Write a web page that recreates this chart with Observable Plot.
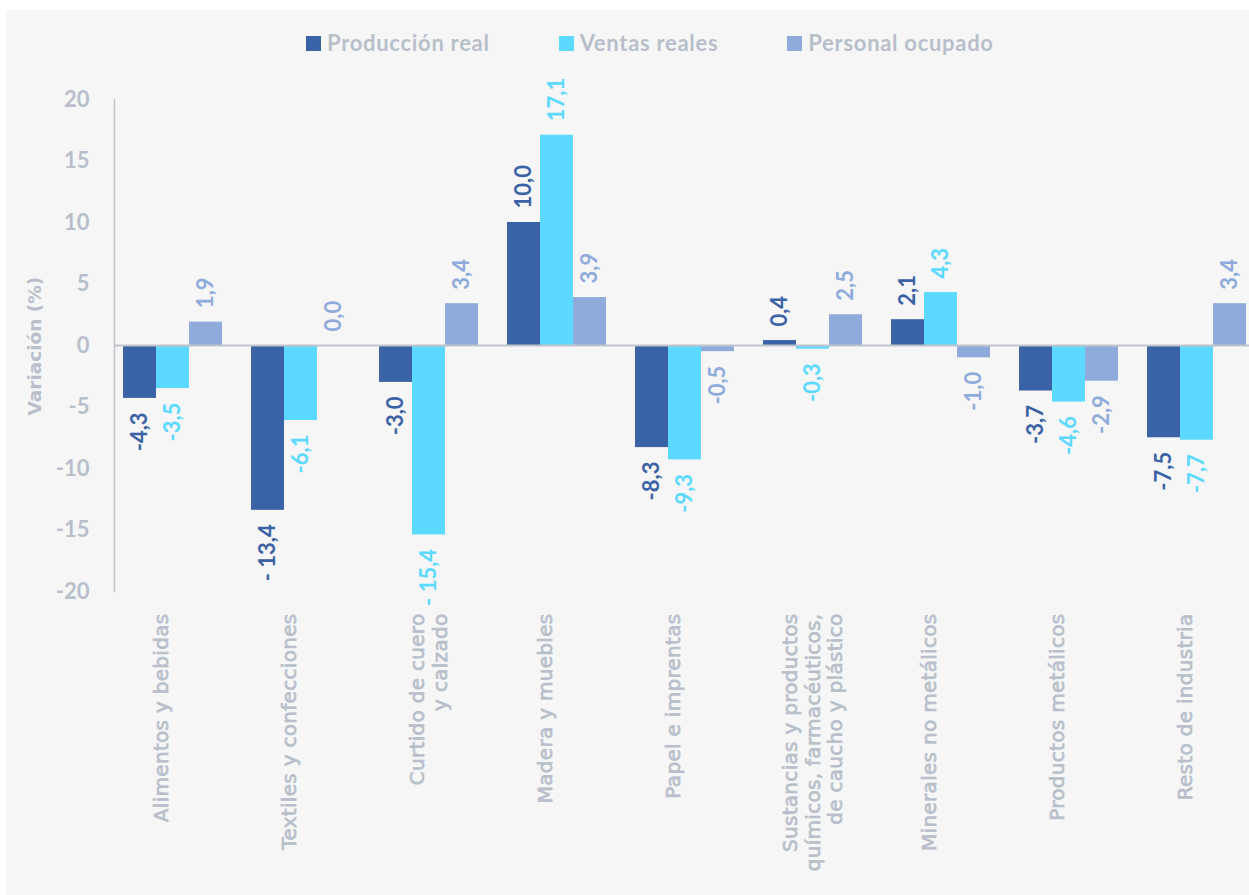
<!DOCTYPE html>
<html>
<head>
<meta charset="utf-8">
<script src="https://cdn.jsdelivr.net/npm/d3@7"></script>
<script src="https://cdn.jsdelivr.net/npm/@observablehq/plot@0.6"></script>
<style>
  html, body { margin: 0; padding: 0; background: #ffffff; }
  body { width: 1249px; height: 895px; position: relative; overflow: hidden; }
  #panel { position: absolute; left: 6px; top: 10px; right: 0; bottom: 0; background: #f6f6f6; }
  #legend { position: absolute; top: 31px; left: 306px; display: flex; gap: 69px;
            font-family: Lato, sans-serif; font-weight: 700; font-size: 22px; line-height: 24px;
            color: #b8bfcb; letter-spacing: 0.7px; white-space: nowrap; }
  #legend .item { display: flex; align-items: center; }
  #legend .sw { width: 15px; height: 15px; margin-right: 6px; }
  #chart { position: absolute; left: 0; top: 70px; }
  #chart [aria-label="fx-axis tick label"] text {
    letter-spacing: 0.3px; stroke: #b8bfcb; stroke-width: 0.7px; paint-order: stroke;
  }
</style>
</head>
<body>
<div id="panel"></div>
<div id="legend"></div>
<div id="chart"></div>
<script>
// ---- Data ----
const categories = [
  "Alimentos y bebidas",
  "Textiles y confecciones",
  "Curtido de cuero\ny calzado",
  "Madera y muebles",
  "Papel e imprentas",
  "Sustancias y productos\nquímicos, farmacéuticos,\nde caucho y plástico",
  "Minerales no metálicos",
  "Productos metálicos",
  "Resto de industria"
];
const series = ["Producción real", "Ventas reales", "Personal ocupado"];
const produccion = [-4.3, -13.4, -3.0, 10.0, -8.3, 0.4, 2.1, -3.7, -7.5];
const ventas     = [-3.5, -6.1, -15.4, 17.1, -9.3, -0.3, 4.3, -4.6, -7.7];
const personal   = [1.9, 0.0, 3.4, 3.9, -0.5, 2.5, -1.0, -2.9, 3.4];
const colors = ["#3a62a6", "#5bd9ff", "#8fabdc"];
const yTicks = [-20, -15, -10, -5, 0, 5, 10, 15, 20];
const yTitle = "Variación (%)";

// ---- Table ----
const valuesBySeries = [produccion, ventas, personal];
const data = [];
categories.forEach((c, i) => {
  series.forEach((s, j) => data.push({cat: c, series: s, value: valuesBySeries[j][i]}));
});
const fmt = v => (v < 0 ? (v <= -10 ? "- " : "-") : "") + Math.abs(v).toFixed(1).replace(".", ",");
data.forEach(d => d.label = fmt(d.value));
const pos = data.filter(d => d.value >= 0);
const neg = data.filter(d => d.value < 0);
const singles = categories.filter(c => !c.includes("\n"));
const multis = categories.filter(c => c.includes("\n"));

const grey = "#b8bfcb";
const lineGrey = "#bfc4cc";

// ---- Legend ----
const legend = document.getElementById("legend");
series.forEach((s, j) => {
  const it = document.createElement("div");
  it.className = "item";
  const sw = document.createElement("span");
  sw.className = "sw";
  sw.style.background = colors[j];
  const tx = document.createElement("span");
  tx.textContent = s;
  it.appendChild(sw); it.appendChild(tx);
  legend.appendChild(it);
});

// ---- Chart ----
const catAxis = {
  anchor: "bottom", tickRotate: -90, tickSize: 0, tickPadding: 22,
  textAnchor: "end", lineAnchor: "middle", lineHeight: 1.12,
  fontSize: 20, fontFamily: "DejaVu Sans", fill: grey, label: null
};
const valText = {
  fx: "cat", x: "series", y: "value", text: "label", fill: "series",
  rotate: -90, fontSize: 22, fontWeight: "bold", fontFamily: "Lato"
};

const chart = Plot.plot({
  width: 1249,
  height: 825,
  marginTop: 29,
  marginBottom: 304,
  marginLeft: 113,
  marginRight: -5,
  style: {background: "transparent", overflow: "visible"},
  fx: {domain: categories, paddingInner: 0.0946, paddingOuter: 0, label: null},
  x: {domain: series, paddingInner: 0, paddingOuter: 0.24, axis: null},
  y: {domain: [-20, 20], label: null},
  color: {domain: series, range: colors},
  marks: [
    Plot.barY(data, {fx: "cat", x: "series", y: "value", fill: "series"}),
    Plot.ruleY([0], {stroke: lineGrey, strokeWidth: 2, insetLeft: 0, insetRight: -12.2}),
    Plot.frame({facet: "super", anchor: "left", stroke: lineGrey, strokeWidth: 1.5}),
    Plot.axisY({ticks: yTicks, tickSize: 0, tickPadding: 25, tickFormat: d => String(d),
      fontSize: 22, fontWeight: "bold", fontFamily: "Lato", fill: grey, label: null}),
    Plot.axisFx({...catAxis, ticks: singles, dx: -12}),
    Plot.axisFx({...catAxis, ticks: multis}),
    Plot.text(pos, {...valText, textAnchor: "start", dy: -14}),
    Plot.text(neg, {...valText, textAnchor: "end", dy: 14}),
    Plot.text([yTitle], {facet: "super", frameAnchor: "left", dx: -79, dy: 70, rotate: -90,
      fontSize: 18.5, fontWeight: "bold", fontFamily: "DejaVu Sans", fill: grey})
  ]
});
document.getElementById("chart").appendChild(chart);
</script>
</body>
</html>
